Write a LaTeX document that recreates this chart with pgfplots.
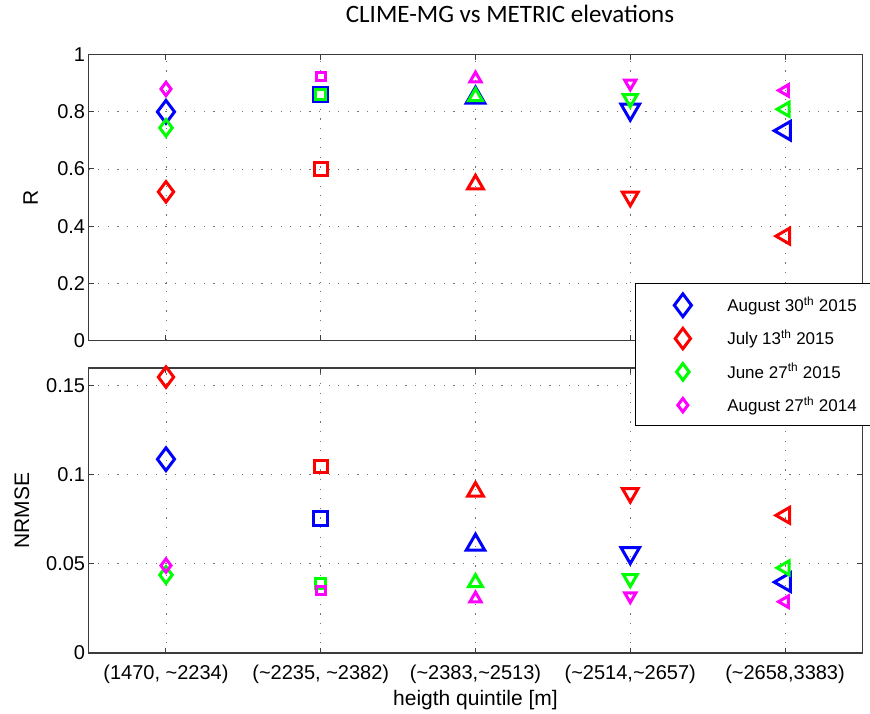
\documentclass[border=0pt]{standalone}
\usepackage{pgfplots}
\pgfplotsset{compat=1.18}
\usepackage{fontspec}
\setmainfont{Liberation Sans}
\newfontfamily\titlefont{Carlito}
\definecolor{mblue}{RGB}{0,0,255}
\definecolor{mred}{RGB}{255,0,0}
\definecolor{mgreen}{RGB}{0,255,0}
\definecolor{mmag}{RGB}{255,0,255}
\definecolor{axgray}{RGB}{60,60,60}
\pgfplotsset{
  base/.style={scale only axis, width=773.8pt, xmin=0.5, xmax=5.5, xtick={1,2,3,4,5},
    grid=major, major grid style={black!55, line width=0.9pt, dash pattern=on 1.2pt off 8.4pt},
    axis line style={axgray, line width=1.2pt},
    tick align=inside, tick pos=both, major tick length=5pt,
    every tick/.style={axgray, line width=1pt},
    tick label style={font=\fontsize{20}{24}\selectfont, text=black},
    label style={font=\fontsize{21}{25}\selectfont},
    /pgf/number format/assume math mode=true,
    clip=false},
  ser/.style={only marks, forget plot, line width=3pt, every mark/.append style={solid, line join=miter}},
  B/.style={ser, color=mblue}, R/.style={ser, color=mred},
  G/.style={ser, color=mgreen}, M/.style={ser, color=mmag},
  dia/.style={mark=diamond, mark size=#1},
  sq/.style={mark=square, mark size=#1},
  up/.style={mark=triangle, mark size=#1},
  dn/.style={mark=triangle, mark size=#1, every mark/.append style={rotate=180}},
  lf/.style={mark=triangle, mark size=#1, every mark/.append style={rotate=90}},
  myleg/.style={legend image code/.code={\pgfpathrectangle{\pgfpoint{0pt}{-16.65pt}}{\pgfpoint{92pt}{33.3pt}}\pgfusepath{}\draw[##1] plot coordinates {(47.6pt,-0.5pt)};}},
}
\newcommand{\pt}[4]{\addplot[#1,#2] coordinates {(#3,#4)};}
\begin{document}
\begin{tikzpicture}
\begin{axis}[base, name=top, height=285.7pt, ymin=0, ymax=1,
  ytick={0,0.2,0.4,0.6,0.8,1}, yticklabels={0,0.2,0.4,0.6,0.8,1}, xticklabels={},
  ylabel={R}, ylabel style={at={(axis description cs:-0.0654,0.5)}, anchor=base},
  title={\titlefont CLIME-MG vs METRIC elevations},
  title style={at={(axis description cs:0.5446,1)}, anchor=base, yshift=26.4pt, font=\fontsize{25}{30}\selectfont}]
% August 30th 2015
\pt{B}{dia=11.4pt}{1}{0.800}
\pt{B}{sq=7pt}{2}{0.861}
\pt{B}{up=10.7pt}{3}{0.849}
\pt{B}{dn=10.7pt}{4}{0.808}
\pt{B}{lf=10.7pt}{5}{0.734}
% July 13th 2015
\pt{R}{dia=10.2pt}{1}{0.520}
\pt{R}{sq=6.3pt}{2}{0.599}
\pt{R}{up=9.1pt}{3}{0.546}
\pt{R}{dn=9.1pt}{4}{0.503}
\pt{R}{lf=9.1pt}{5}{0.365}
% June 27th 2015
\pt{G}{dia=8.3pt}{1}{0.744}
\pt{G}{sq=5pt}{2}{0.861}
\pt{G}{up=8pt}{3}{0.853}
\pt{G}{dn=8pt}{4}{0.846}
\pt{G}{lf=8pt}{5}{0.809}
% August 27th 2014
\pt{M}{dia=6.7pt}{1}{0.880}
\pt{M}{sq=4.3pt}{2}{0.923}
\pt{M}{up=6.5pt}{3}{0.916}
\pt{M}{dn=6.5pt}{4}{0.900}
\pt{M}{lf=6.5pt}{5}{0.875}
\end{axis}
\begin{axis}[base, name=bot, at={(top.south west)}, anchor=north west, yshift=-27.6pt,
  height=285pt, ymin=0, ymax=0.16,
  ytick={0,0.05,0.1,0.15}, yticklabels={0,0.05,0.1,0.15},
  xticklabels={(1470, \textasciitilde2234),(\textasciitilde2235, \textasciitilde2382),(\textasciitilde2383,\textasciitilde2513),(\textasciitilde2514,\textasciitilde2657),(\textasciitilde2658,3383)},
  xticklabel style={anchor=base, yshift=-26pt},
  xlabel={heigth quintile [m]}, xlabel style={at={(axis description cs:0.5,0)}, anchor=base, yshift=-52pt},
  ylabel={NRMSE}, ylabel style={at={(axis description cs:-0.0767,0.5)}, anchor=base},
  legend style={at={(axis description cs:0.7057,1.2975)}, anchor=north west, draw=black, line width=1.2pt,
    fill=white, inner xsep=0pt, inner ysep=4.3pt, row sep=0pt, column sep=0pt,
    font=\fontsize{17}{20}\selectfont, nodes={inner sep=0pt, anchor=west}},
  legend cell align=left]
\addlegendimage{only marks, mblue, line width=3pt, mark=diamond, mark size=11.4pt, every mark/.append style={solid, line join=miter}, myleg}
\addlegendentry{\makebox[146pt][l]{August 30\textsuperscript{th} 2015}}
\addlegendimage{only marks, mred, line width=3pt, mark=diamond, mark size=10.2pt, every mark/.append style={solid, line join=miter}, myleg}
\addlegendentry{\makebox[146pt][l]{July 13\textsuperscript{th} 2015}}
\addlegendimage{only marks, mgreen, line width=3pt, mark=diamond, mark size=8.3pt, every mark/.append style={solid, line join=miter}, myleg}
\addlegendentry{\makebox[146pt][l]{June 27\textsuperscript{th} 2015}}
\addlegendimage{only marks, mmag, line width=3pt, mark=diamond, mark size=6.7pt, every mark/.append style={solid, line join=miter}, myleg}
\addlegendentry{\makebox[146pt][l]{August 27\textsuperscript{th} 2014}}
% August 30th 2015
\pt{B}{dia=11.4pt}{1}{0.1088}
\pt{B}{sq=7pt}{2}{0.0757}
\pt{B}{up=10.7pt}{3}{0.0607}
\pt{B}{dn=10.7pt}{4}{0.0562}
\pt{B}{lf=10.7pt}{5}{0.0398}
% July 13th 2015
\pt{R}{dia=10.2pt}{1}{0.1549}
\pt{R}{sq=6.3pt}{2}{0.1047}
\pt{R}{up=9.1pt}{3}{0.0906}
\pt{R}{dn=9.1pt}{4}{0.0898}
\pt{R}{lf=9.1pt}{5}{0.0773}
% June 27th 2015
\pt{G}{dia=8.3pt}{1}{0.0438}
\pt{G}{sq=5pt}{2}{0.0388}
\pt{G}{up=8pt}{3}{0.0395}
\pt{G}{dn=8pt}{4}{0.0418}
\pt{G}{lf=8pt}{5}{0.0478}
% August 27th 2014
\pt{M}{dia=6.7pt}{1}{0.0491}
\pt{M}{sq=4.3pt}{2}{0.0350}
\pt{M}{up=6.5pt}{3}{0.0305}
\pt{M}{dn=6.5pt}{4}{0.0320}
\pt{M}{lf=6.5pt}{5}{0.0288}
\end{axis}
\pgfresetboundingbox
\path[use as bounding box] ([shift={(-88.6pt,-60pt)}]bot.south west) rectangle ([shift={(781.4pt,653pt)}]bot.south west);
\end{tikzpicture}
\end{document}
